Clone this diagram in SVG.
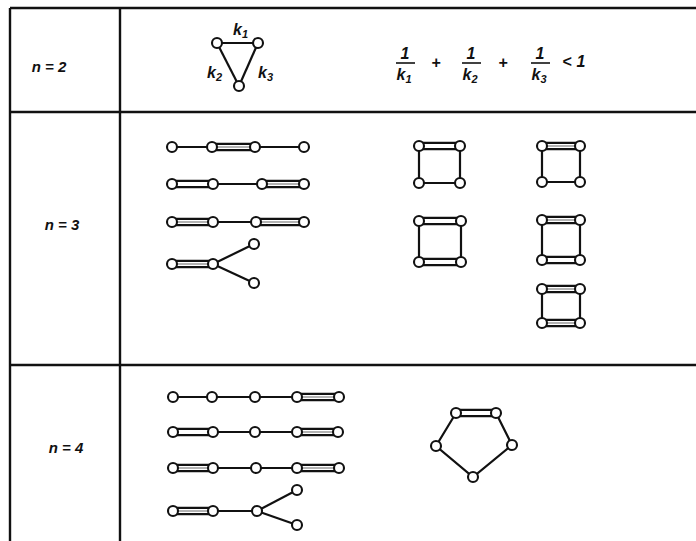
<svg xmlns="http://www.w3.org/2000/svg" width="696" height="541" viewBox="0 0 696 541">
<style>
.frame{stroke:#111;stroke-width:2.4;fill:none}
.b{stroke:#111;stroke-width:2.2;fill:none}
.in{stroke:#666;stroke-width:1.1;fill:none}
.n{fill:#fff;stroke:#111;stroke-width:2.1}
.t{font-family:"Liberation Sans",Arial,sans-serif;font-style:italic;font-weight:bold;fill:#111}
.lbl{font-size:15px}
.f{font-size:16px}
.s{font-size:11px}
</style>
<rect width="696" height="541" fill="#fff"/>
<g id="table">
<line class="frame" x1="10" y1="8" x2="696" y2="8"/>
<line class="frame" x1="10" y1="8" x2="10" y2="541"/>
<line class="frame" x1="120" y1="8" x2="120" y2="541"/>
<line class="frame" x1="10" y1="112" x2="696" y2="112"/>
<line class="frame" x1="10" y1="365" x2="696" y2="365"/>
</g>
<g id="row-labels">
<text class="t lbl" x="49" y="72" text-anchor="middle">n = 2</text>
<text class="t lbl" x="62" y="230" text-anchor="middle">n = 3</text>
<text class="t lbl" x="66" y="453" text-anchor="middle">n = 4</text>
</g>
<g id="formula" class="t f" text-anchor="middle">
<text x="405" y="59">1</text>
<line class="b" x1="396" y1="63" x2="415" y2="63" style="stroke-width:1.6"/>
<text x="404" y="80">k<tspan class="s" dy="3">1</tspan></text>
<text x="436" y="68">+</text>
<text x="471" y="59">1</text>
<line class="b" x1="462" y1="63" x2="481" y2="63" style="stroke-width:1.6"/>
<text x="470" y="80">k<tspan class="s" dy="3">2</tspan></text>
<text x="503" y="68">+</text>
<text x="540" y="59">1</text>
<line class="b" x1="531" y1="63" x2="550" y2="63" style="stroke-width:1.6"/>
<text x="539" y="80">k<tspan class="s" dy="3">3</tspan></text>
<text x="567" y="67">&lt;</text>
<text x="581" y="67">1</text>
</g>
<g id="connectors">
<line class="b" x1="217" y1="43" x2="258" y2="43"/>
<line class="b" x1="217" y1="43" x2="239" y2="86"/>
<line class="b" x1="258" y1="43" x2="239" y2="86"/>
<line class="b" x1="172" y1="147" x2="212" y2="147"/>
<path class="b" d="M212 143.8H255M212 150.2H255"/><line class="in" x1="212" y1="147" x2="255" y2="147"/>
<line class="b" x1="255" y1="147" x2="304" y2="147"/>
<path class="b" d="M172 180.8H213M172 187.2H213"/>
<line class="b" x1="213" y1="184" x2="262" y2="184"/>
<path class="b" d="M262 180.8H304M262 187.2H304"/><line class="in" x1="262" y1="184" x2="304" y2="184"/>
<path class="b" d="M172 218.8H213M172 225.2H213"/><line class="in" x1="172" y1="222" x2="213" y2="222"/>
<line class="b" x1="213" y1="222" x2="256" y2="222"/>
<path class="b" d="M256 218.8H304M256 225.2H304"/><line class="in" x1="256" y1="222" x2="304" y2="222"/>
<path class="b" d="M172 260.8H213M172 267.2H213"/><line class="in" x1="172" y1="264" x2="213" y2="264"/>
<line class="b" x1="213" y1="264" x2="254" y2="244"/>
<line class="b" x1="213" y1="264" x2="254" y2="283"/>
<path class="b" d="M419 142.8H460M419 149.2H460"/>
<path class="b" d="M419 146V183H460V146"/>
<path class="b" d="M419 217.8H461M419 224.2H461"/>
<path class="b" d="M419 258.8H461M419 265.2H461"/>
<path class="b" d="M419 221V262M461 221V262"/>
<path class="b" d="M542 142.8H580M542 149.2H580"/><line class="in" x1="542" y1="146" x2="580" y2="146"/>
<path class="b" d="M542 146V182H580V146"/>
<path class="b" d="M542 216.8H580M542 223.2H580"/><line class="in" x1="542" y1="220" x2="580" y2="220"/>
<path class="b" d="M542 256.8H580M542 263.2H580"/>
<path class="b" d="M542 220V260M580 220V260"/>
<path class="b" d="M542 285.8H580M542 292.2H580"/><line class="in" x1="542" y1="289" x2="580" y2="289"/>
<path class="b" d="M542 319.8H580M542 326.2H580"/><line class="in" x1="542" y1="323" x2="580" y2="323"/>
<path class="b" d="M542 289V323M580 289V323"/>
<line class="b" x1="173" y1="397" x2="297" y2="397"/>
<path class="b" d="M297 393.8H339M297 400.2H339"/><line class="in" x1="297" y1="397" x2="339" y2="397"/>
<path class="b" d="M173 428.8H213M173 435.2H213"/>
<line class="b" x1="213" y1="432" x2="297" y2="432"/>
<path class="b" d="M297 428.8H338M297 435.2H338"/><line class="in" x1="297" y1="432" x2="338" y2="432"/>
<path class="b" d="M173 464.8H213M173 471.2H213"/><line class="in" x1="173" y1="468" x2="213" y2="468"/>
<line class="b" x1="213" y1="468" x2="297" y2="468"/>
<path class="b" d="M297 464.8H339M297 471.2H339"/><line class="in" x1="297" y1="468" x2="339" y2="468"/>
<path class="b" d="M173 507.8H213M173 514.2H213"/><line class="in" x1="173" y1="511" x2="213" y2="511"/>
<line class="b" x1="213" y1="511" x2="257" y2="511"/>
<line class="b" x1="257" y1="511" x2="297" y2="490"/>
<line class="b" x1="257" y1="511" x2="297" y2="525"/>
<path class="b" d="M456 409.8H496M456 416.2H496"/>
<path class="b" d="M456 413L436 446L473 477L512 445L496 413"/>
</g>
<g id="triangle-labels" class="t f">
<text x="233" y="35">k<tspan class="s" dy="3">1</tspan></text>
<text x="207" y="78">k<tspan class="s" dy="3">2</tspan></text>
<text x="258" y="78">k<tspan class="s" dy="3">3</tspan></text>
</g>
<g id="nodes">
<g id="t1"><circle class="n" cx="217" cy="43" r="5"/></g>
<g id="t2"><circle class="n" cx="258" cy="43" r="5"/></g>
<g id="t3"><circle class="n" cx="239" cy="86" r="5"/></g>
<g id="a1-1"><circle class="n" cx="172" cy="147" r="5"/></g>
<g id="a1-2"><circle class="n" cx="212" cy="147" r="5"/></g>
<g id="a1-3"><circle class="n" cx="255" cy="147" r="5"/></g>
<g id="a1-4"><circle class="n" cx="304" cy="147" r="5"/></g>
<g id="a2-1"><circle class="n" cx="172" cy="184" r="5"/></g>
<g id="a2-2"><circle class="n" cx="213" cy="184" r="5"/></g>
<g id="a2-3"><circle class="n" cx="262" cy="184" r="5"/></g>
<g id="a2-4"><circle class="n" cx="304" cy="184" r="5"/></g>
<g id="a3-1"><circle class="n" cx="172" cy="222" r="5"/></g>
<g id="a3-2"><circle class="n" cx="213" cy="222" r="5"/></g>
<g id="a3-3"><circle class="n" cx="256" cy="222" r="5"/></g>
<g id="a3-4"><circle class="n" cx="304" cy="222" r="5"/></g>
<g id="a4-1"><circle class="n" cx="172" cy="264" r="5"/></g>
<g id="a4-2"><circle class="n" cx="213" cy="264" r="5"/></g>
<g id="a4-3"><circle class="n" cx="254" cy="244" r="5"/></g>
<g id="a4-4"><circle class="n" cx="254" cy="283" r="5"/></g>
<g id="s1-1"><circle class="n" cx="419" cy="146" r="5"/></g>
<g id="s1-2"><circle class="n" cx="460" cy="146" r="5"/></g>
<g id="s1-3"><circle class="n" cx="419" cy="183" r="5"/></g>
<g id="s1-4"><circle class="n" cx="460" cy="183" r="5"/></g>
<g id="s2-1"><circle class="n" cx="419" cy="221" r="5"/></g>
<g id="s2-2"><circle class="n" cx="461" cy="221" r="5"/></g>
<g id="s2-3"><circle class="n" cx="419" cy="262" r="5"/></g>
<g id="s2-4"><circle class="n" cx="461" cy="262" r="5"/></g>
<g id="s3-1"><circle class="n" cx="542" cy="146" r="5"/></g>
<g id="s3-2"><circle class="n" cx="580" cy="146" r="5"/></g>
<g id="s3-3"><circle class="n" cx="542" cy="182" r="5"/></g>
<g id="s3-4"><circle class="n" cx="580" cy="182" r="5"/></g>
<g id="s4-1"><circle class="n" cx="542" cy="220" r="5"/></g>
<g id="s4-2"><circle class="n" cx="580" cy="220" r="5"/></g>
<g id="s4-3"><circle class="n" cx="542" cy="260" r="5"/></g>
<g id="s4-4"><circle class="n" cx="580" cy="260" r="5"/></g>
<g id="s5-1"><circle class="n" cx="542" cy="289" r="5"/></g>
<g id="s5-2"><circle class="n" cx="580" cy="289" r="5"/></g>
<g id="s5-3"><circle class="n" cx="542" cy="323" r="5"/></g>
<g id="s5-4"><circle class="n" cx="580" cy="323" r="5"/></g>
<g id="b1-1"><circle class="n" cx="173" cy="397" r="5"/></g>
<g id="b1-2"><circle class="n" cx="212" cy="397" r="5"/></g>
<g id="b1-3"><circle class="n" cx="255" cy="397" r="5"/></g>
<g id="b1-4"><circle class="n" cx="297" cy="397" r="5"/></g>
<g id="b1-5"><circle class="n" cx="339" cy="397" r="5"/></g>
<g id="b2-1"><circle class="n" cx="173" cy="432" r="5"/></g>
<g id="b2-2"><circle class="n" cx="213" cy="432" r="5"/></g>
<g id="b2-3"><circle class="n" cx="255" cy="432" r="5"/></g>
<g id="b2-4"><circle class="n" cx="297" cy="432" r="5"/></g>
<g id="b2-5"><circle class="n" cx="338" cy="432" r="5"/></g>
<g id="b3-1"><circle class="n" cx="173" cy="468" r="5"/></g>
<g id="b3-2"><circle class="n" cx="213" cy="468" r="5"/></g>
<g id="b3-3"><circle class="n" cx="256" cy="468" r="5"/></g>
<g id="b3-4"><circle class="n" cx="297" cy="468" r="5"/></g>
<g id="b3-5"><circle class="n" cx="339" cy="468" r="5"/></g>
<g id="b4-1"><circle class="n" cx="173" cy="511" r="5"/></g>
<g id="b4-2"><circle class="n" cx="213" cy="511" r="5"/></g>
<g id="b4-3"><circle class="n" cx="257" cy="511" r="5"/></g>
<g id="b4-4"><circle class="n" cx="297" cy="490" r="5"/></g>
<g id="b4-5"><circle class="n" cx="297" cy="525" r="5"/></g>
<g id="p1"><circle class="n" cx="456" cy="413" r="5"/></g>
<g id="p2"><circle class="n" cx="496" cy="413" r="5"/></g>
<g id="p3"><circle class="n" cx="436" cy="446" r="5"/></g>
<g id="p4"><circle class="n" cx="512" cy="445" r="5"/></g>
<g id="p5"><circle class="n" cx="473" cy="477" r="5"/></g>
</g>
</svg>
